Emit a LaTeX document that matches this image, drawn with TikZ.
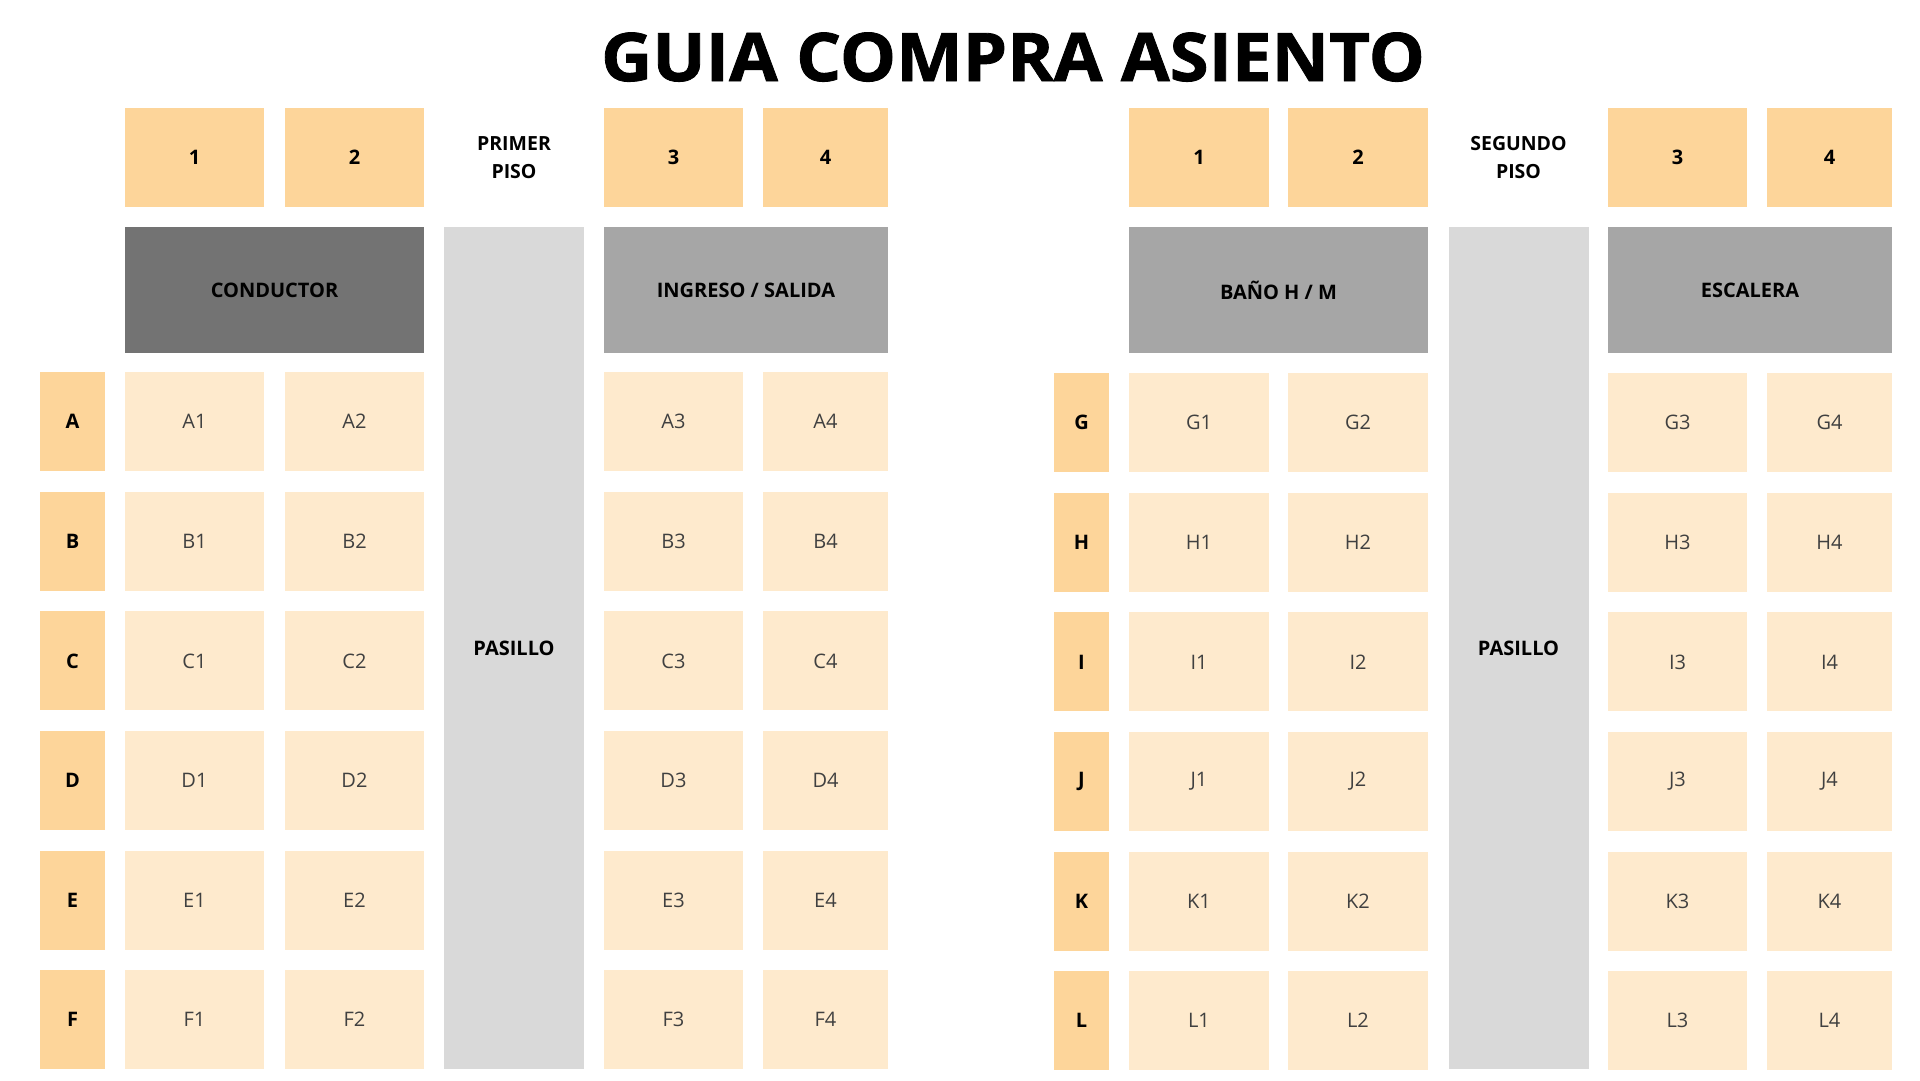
\documentclass[tikz,border=0pt]{standalone}
\usepackage{fontspec}
\setmainfont{Open Sans}
\newfontfamily\titlefont{Open Sans}[BoldFeatures={FakeBold=1.2}]
\usetikzlibrary{positioning}
\definecolor{encab}{HTML}{FDD59A}
\definecolor{butaca}{HTML}{FEEACD}
\definecolor{conduc}{HTML}{737373}
\definecolor{zona}{HTML}{A6A6A6}
\definecolor{pasillo}{HTML}{D9D9D9}

\begin{document}
\begin{tikzpicture}[x=1pt, y=-1pt,
  caja/.style = {inner sep=0pt, anchor=north, minimum height=99pt},
  head/.style = {caja, fill=encab, font=\bfseries\fontsize{20}{24}\selectfont},
  fila/.style = {head},
  seat/.style = {caja, fill=butaca, text=black!75, font=\fontsize{20}{24}\selectfont},
  bloque/.style = {inner sep=0pt, anchor=north, minimum height=126pt, font=\bfseries\fontsize{20}{24}\selectfont},
  aisle/.style = {inner sep=0pt, anchor=north, fill=pasillo, minimum width=140pt, minimum height=842pt, font=\bfseries\fontsize{20}{24}\selectfont},
  piso/.style = {align=center, font=\bfseries\fontsize{19.5}{28}\selectfont}]
\useasboundingbox[fill=white] (0,0) rectangle (1920,1080);
\pgfmathsetmacro{\headtop}{108} %header row
\pgfmathsetmacro{\zonatop}{227} %conductor / bano row
\pgfmathsetmacro{\pitch}{119.6} %row step

\node[anchor=base, font=\titlefont\bfseries\fontsize{67}{80}\selectfont] (titulo) at (1013,81) {\scalebox{1.055}[1]{GUIA COMPRA ASIENTO}};

% primer piso
\foreach \col/\cx/\w in {1/194.5/139, 2/354.5/139, 3/673.5/139, 4/825.5/125}
  \node[head, minimum width=\w pt] (hp\col) at (\cx,\headtop) {\col};
\node[piso] (primer) at (514,158) {PRIMER\\PISO};
\node[bloque, fill=conduc, minimum width=299pt] (conductor) at (274.5,\zonatop) {CONDUCTOR};
\node[bloque, fill=zona, minimum width=284pt] (ingreso) at (746,\zonatop) {INGRESO / SALIDA};
\node[aisle] (pasillo1) at (514,\zonatop) {PASILLO};
\foreach \fil [count=\i from 0] in {A,...,F} {
  \pgfmathsetmacro{\filay}{372+\pitch*\i}
  \node[fila, minimum width=65pt] (\fil) at (72.5,\filay) {\fil};
  \foreach \col/\cx/\w in {1/194.5/139, 2/354.5/139, 3/673.5/139, 4/825.5/125}
    \node[seat, minimum width=\w pt] (\fil\col) at (\cx,\filay) {\fil\col};
}

% segundo piso
\foreach \col/\cx/\w in {1/1199/140, 2/1358/140, 3/1677.5/139, 4/1829.5/125}
  \node[head, minimum width=\w pt] (hs\col) at (\cx,\headtop) {\col};
\node[piso] (segundo) at (1518.5,158) {SEGUNDO\\PISO};
\node[bloque, fill=zona, minimum width=299pt] (bano) at (1278.5,\zonatop) {BAÑO H / M};
\node[bloque, fill=zona, minimum width=284pt] (escalera) at (1750,\zonatop) {ESCALERA};
\node[aisle] (pasillo2) at (1518.5,\zonatop) {PASILLO};
\foreach \fil [count=\i from 0] in {G,...,L} {
  \pgfmathsetmacro{\filay}{373+\pitch*\i}
  \node[fila, minimum width=55pt] (\fil) at (1081.5,\filay) {\fil};
  \foreach \col/\cx/\w in {1/1199/140, 2/1358/140, 3/1677.5/139, 4/1829.5/125}
    \node[seat, minimum width=\w pt] (\fil\col) at (\cx,\filay) {\fil\col};
}

\end{tikzpicture}
\end{document}
